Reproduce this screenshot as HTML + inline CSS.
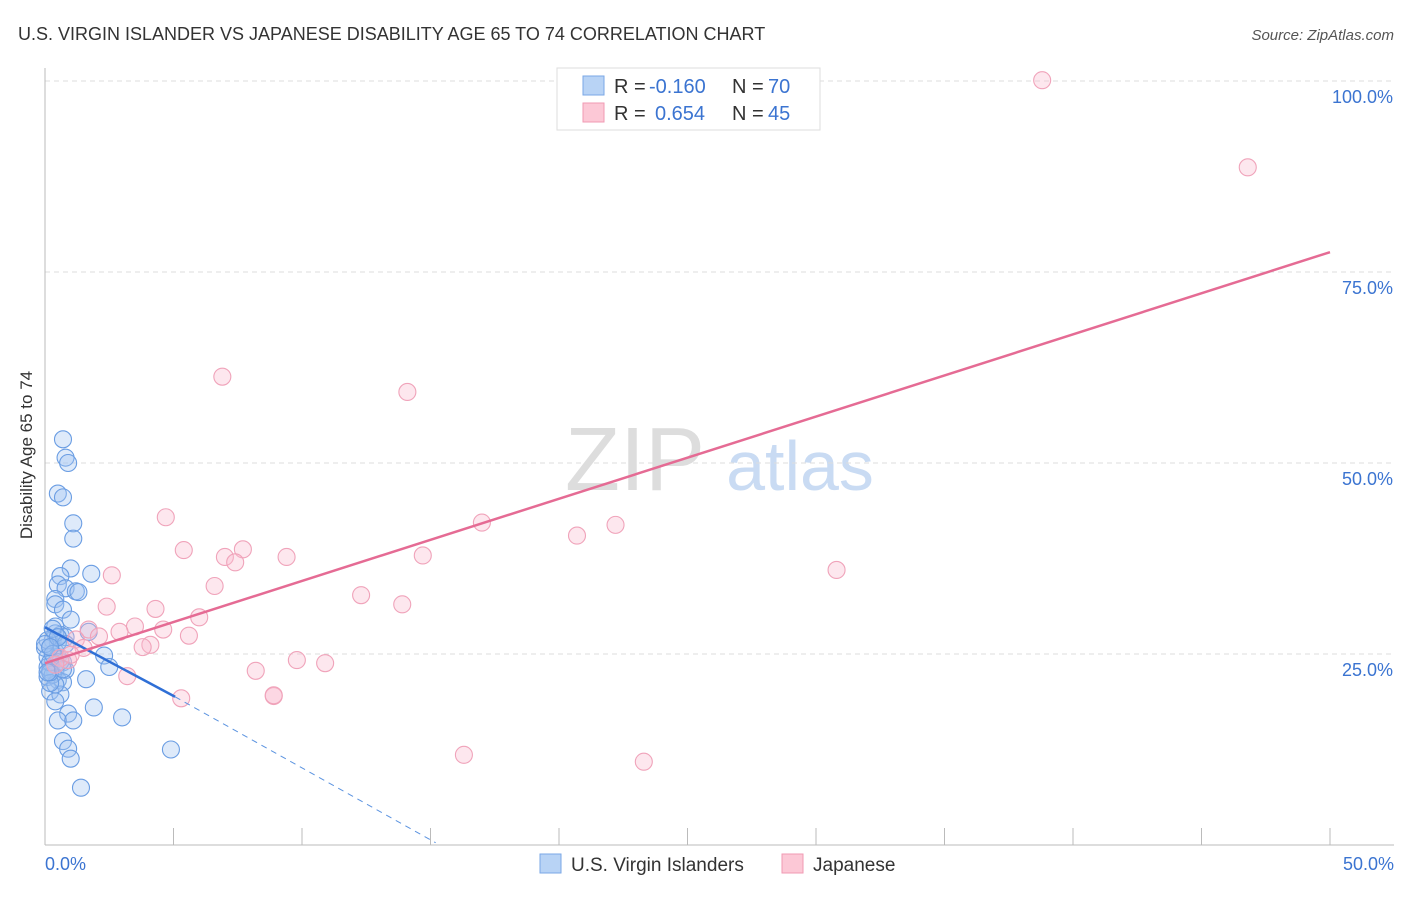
<!DOCTYPE html>
<html><head><meta charset="utf-8"><style>
body{margin:0;background:#fff;font-family:"Liberation Sans",sans-serif;}
svg text{font-family:"Liberation Sans",sans-serif;}
</style></head><body>
<svg width="1406" height="892" xmlns="http://www.w3.org/2000/svg">
<text x="18" y="40" font-size="18" fill="#333">U.S. VIRGIN ISLANDER VS JAPANESE DISABILITY AGE 65 TO 74 CORRELATION CHART</text>
<text x="1394" y="40" font-size="15" fill="#555" text-anchor="end" font-style="italic">Source: ZipAtlas.com</text>
<text x="32" y="455" font-size="17" fill="#333" text-anchor="middle" transform="rotate(-90 32 455)">Disability Age 65 to 74</text>
<g><text x="635" y="490" font-size="90" fill="#ddd" text-anchor="middle" font-family="Liberation Serif">ZIP</text><text x="800" y="490" font-size="70" fill="#c9dbf3" text-anchor="middle">atlas</text></g>
<g id="grid"></g><g id="axes"></g><g id="marks"></g>
<g>
<rect x="557" y="68" width="263" height="62" fill="#fff" stroke="#ddd"/>
<rect x="583" y="76" width="21" height="19" fill="#b8d3f5" stroke="#7aa7e6"/>
<rect x="583" y="103" width="21" height="19" fill="#fcc8d6" stroke="#f09ab3"/>
<text x="614" y="93" font-size="20" fill="#333">R =</text>
<text x="649" y="93" font-size="20" fill="#3b74d1">-0.160</text>
<text x="732" y="93" font-size="20" fill="#333">N =</text>
<text x="768" y="93" font-size="20" fill="#3b74d1">70</text>
<text x="614" y="120" font-size="20" fill="#333">R =</text>
<text x="655" y="120" font-size="20" fill="#3b74d1">0.654</text>
<text x="732" y="120" font-size="20" fill="#333">N =</text>
<text x="768" y="120" font-size="20" fill="#3b74d1">45</text>
</g>
<g>
<rect x="540" y="854" width="21" height="19" fill="#b8d3f5" stroke="#7aa7e6"/>
<text x="571" y="871" font-size="19" fill="#333">U.S. Virgin Islanders</text>
<rect x="782" y="854" width="21" height="19" fill="#fcc8d6" stroke="#f09ab3"/>
<text x="813" y="871" font-size="19" fill="#333">Japanese</text>
</g>
</svg>
<script>
const yTicks=[25,50,75,100];
const yTickLabels=["25.0%","50.0%","75.0%","100.0%"];
const xTicks=[0,5,10,15,20,25,30,35,40,45,50];
const blueX=[0.7,0.8,0.9,0.5,0.7,1.1,1.1,1.0,1.8,0.6,0.5,0.8,1.2,1.3,0.4,0.4,0.7,1.0,0.4,1.7,0.3,0.6,0.8,0.2,0.4,0.1,0.3,0.5,0.7,2.3,2.5,0.2,0.4,0.8,0.1,0.5,0.7,1.6,0.2,0.6,0.4,1.9,0.9,3.0,0.5,1.1,0.7,0.9,1.0,4.9,1.4,0.1,0.3,0.5,0.2,0.4,0.0,0.6,0.4,0.2,0.1,0.3,0.0,0.2,0.8,0.5,0.3,0.1,0.7,0.2];
const blueY=[53.1,50.7,50.0,46.0,45.5,42.1,40.1,36.2,35.5,35.2,34.1,33.6,33.2,33.1,32.2,31.5,30.8,29.5,28.6,27.9,26.8,27.5,27.2,25.9,25.3,24.6,23.9,24.6,23.9,24.8,23.3,22.9,22.6,22.9,22.0,21.6,21.3,21.7,20.1,19.7,18.8,18.0,17.2,16.7,16.3,16.3,13.6,12.6,11.3,12.5,7.5,23.3,22.3,26.5,23.9,27.7,25.8,24.0,21.0,21.2,26.8,28.3,26.3,22.6,26.3,27.2,25.0,22.6,23.0,25.9];
const pinkX=[38.8,46.8,6.9,14.1,4.7,17.0,22.2,20.7,5.4,7.7,7.0,7.4,9.4,14.7,2.6,30.8,6.6,12.3,2.4,4.3,13.9,6.0,3.5,4.6,2.9,5.6,1.7,2.1,1.2,4.1,3.8,1.5,0.9,9.8,10.9,8.2,3.2,8.9,8.9,5.3,16.3,23.3,0.6,1.0,0.4];
const pinkY=[100.1,88.7,61.3,59.3,42.9,42.2,41.9,40.5,38.6,38.7,37.7,37.0,37.7,37.9,35.3,36.0,33.9,32.7,31.2,30.9,31.5,29.8,28.6,28.2,27.9,27.4,28.2,27.3,26.9,26.2,25.9,25.8,24.2,24.2,23.8,22.8,22.1,19.5,19.6,19.2,11.8,10.9,24.5,24.9,23.6];
const blueLine=[[0,28.5],[5.06,19.4]];
const blueDash=[[5.06,19.4],[15.2,0.3]];
const pinkLine=[[0,23.8],[50,77.6]];
const NS="http://www.w3.org/2000/svg";
const X=v=>45+v*25.7, Y=v=>845-v*7.64;
function mk(t,a,p){const e=document.createElementNS(NS,t);for(const k in a)e.setAttribute(k,a[k]);p.appendChild(e);return e;}
const grid=document.getElementById('grid'),axes=document.getElementById('axes'),marks=document.getElementById('marks');
yTicks.forEach((t,i)=>{
 const l=mk('line',{x1:45,x2:1394,y1:Y(t),y2:Y(t),stroke:'#ddd','stroke-dasharray':'5,4'},grid);
 
 
 const tx=mk('text',{x:1393,y:Y(t)+22,'font-size':18,fill:'#3b74d1','text-anchor':'end'},axes);
 tx.textContent=yTickLabels[i];
 
 
});
const ax=mk('line',{x1:45,x2:1394,y1:845,y2:845,stroke:'#bbb'},axes);


const ay=mk('line',{x1:45,x2:45,y1:68,y2:845,stroke:'#bbb'},axes);


xTicks.forEach(t=>{
 const l=mk('line',{x1:X(t),x2:X(t),y1:828,y2:845,stroke:'#bbb'},axes);
 
 
});
[[0,"0.0%",'start',45],[50,"50.0%",'end',1394]].forEach(a=>{
 const tx=mk('text',{x:a[3],y:870,'font-size':18,fill:'#3b74d1','text-anchor':a[2]},axes);
 tx.textContent=a[1];
 
 
});
blueX.forEach((v,i)=>{
 const c=mk('circle',{cx:X(v),cy:Y(blueY[i]),r:8.5,fill:'rgba(160,195,240,0.35)',stroke:'#6a9de3','stroke-width':1.1},marks);
 
 
});
pinkX.forEach((v,i)=>{
 const c=mk('circle',{cx:X(v),cy:Y(pinkY[i]),r:8.5,fill:'rgba(248,185,205,0.35)',stroke:'#f0a3ba','stroke-width':1.1},marks);
 
 
});
const bl=mk('line',{x1:X(blueLine[0][0]),y1:Y(blueLine[0][1]),x2:X(blueLine[1][0]),y2:Y(blueLine[1][1]),stroke:'#2f6fd6','stroke-width':2.5},marks);


const bd=mk('line',{x1:X(blueDash[0][0]),y1:Y(blueDash[0][1]),x2:X(blueDash[1][0]),y2:Y(blueDash[1][1]),stroke:'#5b93e0','stroke-width':1,'stroke-dasharray':'6,5'},marks);


const pl=mk('line',{x1:X(pinkLine[0][0]),y1:Y(pinkLine[0][1]),x2:X(pinkLine[1][0]),y2:Y(pinkLine[1][1]),stroke:'#e56b94','stroke-width':2.5},marks);


</script>
</body></html>
